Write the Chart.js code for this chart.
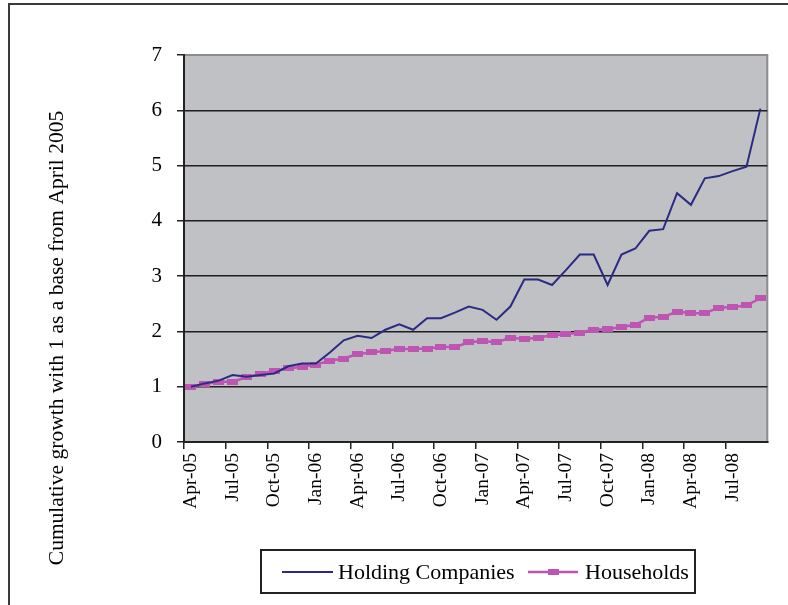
<!DOCTYPE html>
<html>
<head>
<meta charset="utf-8">
<script src="https://cdn.jsdelivr.net/npm/chart.js@4.4.0/dist/chart.umd.min.js"></script>
<style>
  html, body { margin: 0; padding: 0; background: #fff; }
</style>
</head>
<body>
<canvas id="grafico" width="788" height="605"></canvas>
<script>
// Datos (mensual, Apr-05 a Sep-08)
const meses = [
  "Apr-05","May-05","Jun-05","Jul-05","Aug-05","Sep-05","Oct-05","Nov-05","Dec-05",
  "Jan-06","Feb-06","Mar-06","Apr-06","May-06","Jun-06","Jul-06","Aug-06","Sep-06",
  "Oct-06","Nov-06","Dec-06","Jan-07","Feb-07","Mar-07","Apr-07","May-07","Jun-07",
  "Jul-07","Aug-07","Sep-07","Oct-07","Nov-07","Dec-07","Jan-08","Feb-08","Mar-08",
  "Apr-08","May-08","Jun-08","Jul-08","Aug-08","Sep-08"
];
const holding = [
  1.00, 1.06, 1.11, 1.21, 1.18, 1.21, 1.24, 1.37, 1.42, 1.42,
  1.62, 1.84, 1.92, 1.88, 2.03, 2.13, 2.03, 2.24, 2.24, 2.34,
  2.45, 2.39, 2.21, 2.45, 2.94, 2.94, 2.84, 3.11, 3.39, 3.39,
  2.84, 3.39, 3.50, 3.82, 3.85, 4.50, 4.29, 4.77, 4.81, 4.90,
  4.98, 6.03
];
const hogares = [
  1.00, 1.05, 1.09, 1.09, 1.17, 1.23, 1.29, 1.33, 1.36, 1.40,
  1.47, 1.51, 1.59, 1.62, 1.65, 1.68, 1.68, 1.69, 1.72, 1.72,
  1.80, 1.83, 1.80, 1.89, 1.86, 1.89, 1.93, 1.95, 1.98, 2.03,
  2.04, 2.08, 2.12, 2.25, 2.26, 2.36, 2.33, 2.33, 2.43, 2.44,
  2.47, 2.60
];
const nombres = ["Holding Companies", "Households"];
const yMin = 0, yMax = 7, yPaso = 1;
const tituloY = "Cumulative growth with 1 as a base from April 2005";

const fuente = '"Liberation Serif", "Times New Roman", serif';
const colorHolding = '#2B2B84';
const colorHogares = '#BE55B3';

// marcador rectangular (las marcas de Households son más anchas que altas)
const marca = document.createElement('canvas');
marca.width = 11; marca.height = 6;
const mctx = marca.getContext('2d');
mctx.fillStyle = colorHogares;
mctx.fillRect(0, 0, 11, 6);

const marcoPlugin = {
  id: 'marco',
  beforeDraw(chart) {
    const { ctx, chartArea: a } = chart;
    ctx.save();
    ctx.fillStyle = '#fff';
    ctx.fillRect(0, 0, chart.width, chart.height);
    ctx.strokeStyle = '#3a3a3a';
    ctx.lineWidth = 2;
    ctx.strokeRect(9, 4, 900, 900);
    ctx.fillStyle = '#C0C1C4';
    ctx.fillRect(a.left, a.top, a.right - a.left, a.bottom - a.top);
    ctx.strokeStyle = '#8c8c8c';
    ctx.lineWidth = 2;
    ctx.strokeRect(a.left, a.top, a.right - a.left, a.bottom - a.top);
    ctx.restore();
  },
  afterDraw(chart) {
    const ctx = chart.ctx;
    ctx.save();
    // título del eje Y
    ctx.fillStyle = '#000';
    ctx.font = '21.5px ' + fuente;
    ctx.textAlign = 'center';
    ctx.textBaseline = 'middle';
    ctx.translate(57, 338);
    ctx.rotate(-Math.PI / 2);
    ctx.fillText(tituloY, 0, 0);
    ctx.restore();

    // leyenda con caja
    ctx.save();
    ctx.strokeStyle = '#222';
    ctx.lineWidth = 2;
    ctx.strokeRect(261, 550, 434, 43);
    ctx.font = '22px ' + fuente;
    ctx.textBaseline = 'middle';
    ctx.fillStyle = '#000';
    const ds = chart.data.datasets;
    const items = [{ x0: 282, x1: 333, tx: 338 }, { x0: 528, x1: 578, tx: 585 }];
    items.forEach((it, i) => {
      ctx.strokeStyle = ds[i].borderColor;
      ctx.lineWidth = ds[i].borderWidth;
      ctx.beginPath();
      ctx.moveTo(it.x0, 572);
      ctx.lineTo(it.x1, 572);
      ctx.stroke();
      if (ds[i].pointStyle instanceof HTMLCanvasElement) {
        const m = ds[i].pointStyle;
        ctx.drawImage(m, (it.x0 + it.x1) / 2 - m.width / 2, 572 - m.height / 2);
      }
      ctx.fillText(ds[i].label, it.tx, 573);
    });
    ctx.restore();
  }
};

const ctx = document.getElementById('grafico').getContext('2d');
const grafico = new Chart(ctx, {
  type: 'line',
  data: {
    labels: meses,
    datasets: [
      {
        label: nombres[0],
        data: holding,
        borderColor: colorHolding,
        borderWidth: 2,
        pointRadius: 0,
        tension: 0,
        fill: false
      },
      {
        label: nombres[1],
        data: hogares,
        borderColor: colorHogares,
        borderWidth: 2.5,
        pointStyle: marca,
        pointRadius: 5,
        tension: 0,
        fill: false
      }
    ]
  },
  options: {
    responsive: false,
    animation: false,
    devicePixelRatio: 1,
    layout: { padding: { top: 55, right: 19, left: 0, bottom: 0 } },
    plugins: { legend: { display: false }, tooltip: { enabled: false } },
    scales: {
      x: {
        offset: true,
        grid: {
          offset: true,
          drawOnChartArea: false,
          tickLength: 7,
          lineWidth: 1.5,
          color: c => (c.index % 3 === 0 ? '#222' : 'rgba(0,0,0,0)')
        },
        border: { color: '#222', width: 2 },
        ticks: {
          autoSkip: false,
          maxRotation: 90,
          minRotation: 90,
          padding: 4,
          color: '#000',
          font: { family: fuente, size: 19.5 },
          callback: (v, i) => (i % 3 === 0 ? meses[i] : '')
        },
        afterFit: s => { s.height = 163; }
      },
      y: {
        min: yMin,
        max: yMax,
        grid: {
          color: c => (c.tick && c.tick.value === yMax ? 'rgba(0,0,0,0)' : '#1e1e1e'),
          tickColor: '#222',
          lineWidth: 1.5,
          tickLength: 7
        },
        border: { color: '#222', width: 2 },
        ticks: {
          stepSize: yPaso,
          padding: 15,
          color: '#000',
          font: { family: fuente, size: 21 }
        },
        afterFit: s => { s.width = 184; }
      }
    }
  },
  plugins: [marcoPlugin]
});
</script>
</body>
</html>
